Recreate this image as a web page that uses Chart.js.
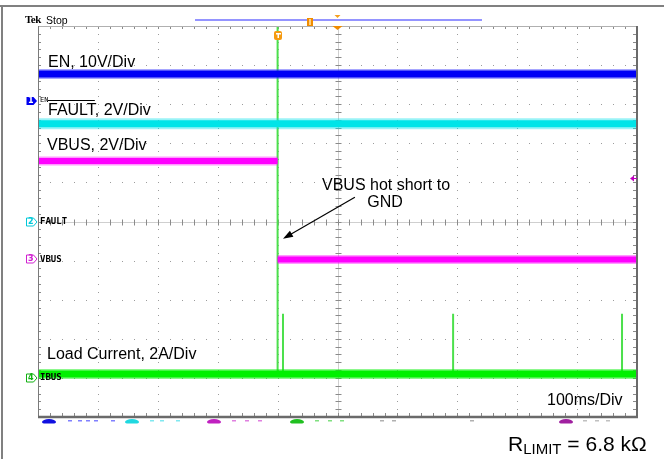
<!DOCTYPE html>
<html><head><meta charset="utf-8">
<script src="https://cdn.jsdelivr.net/npm/chart.js@4/dist/chart.umd.min.js"></script>
<style>
html,body{margin:0;padding:0;background:#fff;}
#wrap{position:relative;width:664px;height:459px;overflow:hidden;background:#fff;}
canvas{position:absolute;left:0;top:0;}
.t{position:absolute;font-family:"Liberation Sans",Arial,sans-serif;font-size:16px;line-height:16px;color:#000;white-space:nowrap;}
.lab{position:absolute;font-family:"DejaVu Sans Mono",monospace;font-size:9px;line-height:9px;font-weight:bold;color:#000;white-space:nowrap;}
.dig{position:absolute;font-family:"DejaVu Sans",sans-serif;font-size:8px;line-height:8px;font-weight:bold;white-space:nowrap;}
</style></head><body>
<div id="wrap">
<canvas id="c" width="664" height="459"></canvas>
<div class="t" style="left:25px;top:14px;font-family:'Liberation Serif',serif;font-weight:bold;font-size:11px;line-height:11px;letter-spacing:-0.5px">Tek</div>
<div class="t" style="left:46px;top:15px;font-size:10.5px;line-height:11px">Stop</div>
<div class="t" style="left:48px;top:53.5px">EN, 10V/Div</div>
<div class="t" style="left:48px;top:101.5px"><span style="text-decoration:overline">FAULT</span>, 2V/Div</div>
<div class="t" style="left:47px;top:136.5px">VBUS, 2V/Div</div>
<div class="t" style="left:322px;top:176.5px;width:126px;text-align:center">VBUS hot short to</div>
<div class="t" style="left:322px;top:193.5px;width:126px;text-align:center">GND</div>
<div class="t" style="left:47px;top:345.5px">Load Current, 2A/Div</div>
<div class="t" style="left:547px;top:391.5px">100ms/Div</div>
<div class="t" style="left:508px;top:433px;font-size:21px;line-height:21px">R<span style="font-size:15px;position:relative;top:3px">LIMIT</span> = 6.8 kΩ</div>
</div>
<script>
// ---- data (time in ms, 100 ms/div; vertical position in screen divisions, centre = 0) ----
const timeRange = [0, 1000];
const divRange = [-5, 5];
const enTime = [0, 1000];
const enDiv = [3.77, 3.77];
const faultTime = [0, 1000];
const faultDiv = [2.5, 2.5];
const vbusTime = [0, 400, 400, 400, 1000];
const vbusDiv = [1.55, 1.55, null, -0.97, -0.97];
const loadTime = [0, 1000];
const loadDiv = [-3.9, -3.9];
const spikeTime = [400, 409, 693, 975];
const spikeTop = [5, -2.36, -2.36, -2.36];
const triggerTime = 400;
const channelNames = ['EN', 'FAULT', 'VBUS', 'IBUS'];
const channelNums = ['1', '2', '3', '4'];
const channelGround = [3.08, 0, -0.96, -4.0];
const channelColors = ['#0000f0', '#00c8d8', '#d020d0', '#10b010'];
const triggerLevelDiv = 1.1;
const arrowFrom = [529, 0.62];
const arrowTo = [409, -0.44];

function pts(xs, ys) { return xs.map((x, i) => ({x: x, y: ys[i]})); }
const spikePts = [];
spikeTime.forEach((t, i) => {
  spikePts.push({x: t, y: loadDiv[0]}, {x: t, y: spikeTop[i]}, {x: t, y: null});
});

function ds(data, color, w) {
  return {data: data, borderColor: color, borderWidth: w, pointRadius: 0, tension: 0, spanGaps: false, fill: false};
}

const graticule = {
  id: 'graticule',
  beforeDatasetsDraw(chart) {
    const {ctx, chartArea: a, scales: {x, y}} = chart;
    ctx.save();
    ctx.fillStyle = '#9c9c9c';
    for (let i = 1; i < 10; i++) {
      if (i === 5) continue;
      const px = Math.round(x.getPixelForValue(i * 100));
      for (let k = 1; k < 50; k++) {
        const py = Math.round(y.getPixelForValue(-5 + k * 0.2));
        ctx.fillRect(px, py, 1, 1);
      }
    }
    for (let j = -4; j <= 4; j++) {
      if (j === 0) continue;
      const py = Math.round(y.getPixelForValue(j));
      for (let k = 1; k < 50; k++) {
        const px = Math.round(x.getPixelForValue(k * 20));
        ctx.fillRect(px, py, 1, 1);
      }
    }
    const cx = Math.round(x.getPixelForValue(500)) + 0.5;
    const cy = Math.round(y.getPixelForValue(0)) + 0.5;
    ctx.strokeStyle = '#cfcfcf';
    ctx.lineWidth = 1;
    ctx.beginPath();
    ctx.moveTo(a.left, cy); ctx.lineTo(a.right, cy);
    ctx.moveTo(cx, a.top); ctx.lineTo(cx, a.bottom);
    ctx.stroke();
    ctx.strokeStyle = '#8a8a8a';
    ctx.beginPath();
    for (let k = 1; k < 50; k++) {
      const px = Math.round(x.getPixelForValue(k * 20)) + 0.5;
      ctx.moveTo(px, cy - 3); ctx.lineTo(px, cy + 3);
      const py = Math.round(y.getPixelForValue(-5 + k * 0.2)) + 0.5;
      ctx.moveTo(cx - 3, py); ctx.lineTo(cx + 3, py);
    }
    for (let k = 1; k < 50; k++) {
      const px = Math.round(x.getPixelForValue(k * 20)) + 0.5;
      ctx.moveTo(px, a.top); ctx.lineTo(px, a.top + 3);
      ctx.moveTo(px, a.bottom); ctx.lineTo(px, a.bottom - 4);
      const py = Math.round(y.getPixelForValue(-5 + k * 0.2)) + 0.5;
      ctx.moveTo(a.left, py); ctx.lineTo(a.left + 3, py);
      ctx.moveTo(a.right, py); ctx.lineTo(a.right - 4, py);
    }
    ctx.stroke();
    ctx.restore();
  },
  afterDatasetsDraw(chart) {
    const {ctx, chartArea: a, scales: {x, y}} = chart;
    ctx.save();
    ctx.strokeStyle = '#b0b0b0'; ctx.lineWidth = 1;
    ctx.beginPath(); ctx.moveTo(a.left, a.top + 0.5); ctx.lineTo(a.right, a.top + 0.5); ctx.stroke();
    ctx.strokeStyle = '#7a7a7a';
    ctx.beginPath(); ctx.moveTo(a.left + 0.5, a.top); ctx.lineTo(a.left + 0.5, a.bottom); ctx.stroke();
    ctx.strokeStyle = '#6a6a6a'; ctx.lineWidth = 2;
    ctx.beginPath(); ctx.moveTo(a.right, a.top); ctx.lineTo(a.right, a.bottom + 1); ctx.stroke();
    ctx.lineWidth = 2.5;
    ctx.beginPath(); ctx.moveTo(a.left, a.bottom); ctx.lineTo(a.right + 1, a.bottom); ctx.stroke();
    ctx.strokeStyle = '#808080'; ctx.lineWidth = 2;
    ctx.beginPath(); ctx.moveTo(0, 6); ctx.lineTo(664, 6); ctx.moveTo(2, 6); ctx.lineTo(2, 459); ctx.stroke();
    ctx.strokeStyle = '#7070ff'; ctx.lineWidth = 1.5;
    ctx.beginPath(); ctx.moveTo(195, 20); ctx.lineTo(482, 20); ctx.stroke();
    ctx.fillStyle = '#f08c00';
    ctx.fillRect(307, 18, 6, 8);
    ctx.fillStyle = '#ffd080'; ctx.fillRect(309, 19, 2, 6);
    const cx = x.getPixelForValue(500);
    ctx.fillStyle = '#f5a020';
    ctx.beginPath(); ctx.moveTo(cx - 3, 15); ctx.lineTo(cx + 3, 15); ctx.lineTo(cx, 18); ctx.closePath(); ctx.fill();
    ctx.fillStyle = '#f08c00';
    ctx.beginPath(); ctx.moveTo(cx - 5, a.top); ctx.lineTo(cx + 5, a.top); ctx.lineTo(cx, a.top + 4); ctx.closePath(); ctx.fill();
    const tx = Math.round(x.getPixelForValue(triggerTime));
    ctx.fillStyle = '#f59a10';
    ctx.beginPath(); ctx.roundRect(tx - 4, a.top + 5, 8, 9, 2); ctx.fill();
    ctx.fillStyle = '#ffffff';
    ctx.fillRect(tx - 2, a.top + 7, 5, 1.5); ctx.fillRect(tx - 0.5, a.top + 7, 1.5, 5);
    const ly = Math.round(y.getPixelForValue(triggerLevelDiv)) + 0.5;
    ctx.fillStyle = '#c000c0'; ctx.strokeStyle = '#c000c0'; ctx.lineWidth = 1;
    ctx.beginPath(); ctx.moveTo(a.right - 7, ly); ctx.lineTo(a.right - 3, ly - 3); ctx.lineTo(a.right - 3, ly + 3); ctx.closePath(); ctx.fill();
    ctx.beginPath(); ctx.moveTo(a.right - 4, ly); ctx.lineTo(a.right, ly); ctx.stroke();
    channelGround.forEach((g, i) => {
      const py = Math.round(y.getPixelForValue(g));
      const l = 26.5, r = 33.5, tip = 37;
      ctx.beginPath();
      ctx.moveTo(l, py - 4); ctx.lineTo(r, py - 4); ctx.lineTo(tip, py); ctx.lineTo(r, py + 4); ctx.lineTo(l, py + 4); ctx.closePath();
      if (i === 0) { ctx.fillStyle = channelColors[i]; ctx.fill(); }
      else { ctx.fillStyle = '#fff'; ctx.fill(); ctx.strokeStyle = channelColors[i]; ctx.lineWidth = 1; ctx.stroke(); }
    });
    const fx = x.getPixelForValue(arrowFrom[0]), fy = y.getPixelForValue(arrowFrom[1]);
    const ex = x.getPixelForValue(arrowTo[0]), ey = y.getPixelForValue(arrowTo[1]);
    const ang = Math.atan2(ey - fy, ex - fx);
    ctx.strokeStyle = '#000'; ctx.fillStyle = '#000'; ctx.lineWidth = 1.2;
    ctx.beginPath(); ctx.moveTo(fx, fy); ctx.lineTo(ex - 6 * Math.cos(ang), ey - 6 * Math.sin(ang)); ctx.stroke();
    ctx.beginPath();
    ctx.moveTo(ex, ey);
    ctx.lineTo(ex - 10 * Math.cos(ang) + 3.5 * Math.sin(ang), ey - 10 * Math.sin(ang) - 3.5 * Math.cos(ang));
    ctx.lineTo(ex - 10 * Math.cos(ang) - 3.5 * Math.sin(ang), ey - 10 * Math.sin(ang) + 3.5 * Math.cos(ang));
    ctx.closePath(); ctx.fill();
    ctx.beginPath(); ctx.rect(0, a.bottom + 1.5, 664, 5); ctx.clip();
    const ovals = [[49, '#1010e0'], [132, '#20d8e0'], [214, '#c020c0'], [297, '#20c020'], [566, '#a020a0']];
    ovals.forEach(o => { ctx.fillStyle = o[1]; ctx.beginPath(); ctx.ellipse(o[0], a.bottom + 5, 7, 3, 0, 0, Math.PI * 2); ctx.fill(); });
    const frags = [[68, '#8080ff'], [78, '#8080ff'], [86, '#8080ff'], [94, '#8080ff'], [111, '#8080ff'],
      [150, '#80e8f0'], [160, '#80e8f0'], [176, '#80e8f0'], [232, '#e080e0'], [245, '#e080e0'], [258, '#e080e0'],
      [315, '#80e080'], [328, '#80e080'], [340, '#80e080'], [380, '#b0b0b0'], [392, '#b0b0b0'], [470, '#b0b0b0'],
      [583, '#c0c0c0'], [595, '#c0c0c0'], [606, '#c0c0c0']];
    frags.forEach(f => { ctx.fillStyle = f[1]; ctx.fillRect(f[0], a.bottom + 3, 4, 1.5); });
    ctx.restore();
  }
};

const chart = new Chart(document.getElementById('c'), {
  type: 'line',
  data: {
    datasets: [
      ds(pts(enTime, enDiv), '#0000f5', 7),
      ds(pts(enTime, enDiv), 'rgba(60,60,255,0.45)', 10),
      ds(pts(faultTime, faultDiv), '#00e4e8', 7),
      ds(pts(faultTime, faultDiv), 'rgba(0,225,235,0.4)', 11),
      ds(pts(vbusTime, vbusDiv), '#ff00ff', 6),
      ds(pts(vbusTime, vbusDiv), 'rgba(255,0,255,0.4)', 9),
      ds(pts(loadTime, loadDiv), '#00f000', 7),
      ds(pts(loadTime, loadDiv), 'rgba(0,240,0,0.45)', 10),
      ds(spikePts, '#4ce04c', 2)
    ]
  },
  options: {
    responsive: false,
    animation: false,
    devicePixelRatio: 1,
    layout: {padding: {left: 38, top: 26, right: 27, bottom: 42}},
    plugins: {legend: {display: false}, tooltip: {enabled: false}, title: {display: false}},
    scales: {
      x: {type: 'linear', min: timeRange[0], max: timeRange[1], display: false},
      y: {type: 'linear', min: divRange[0], max: divRange[1], display: false}
    }
  },
  plugins: [graticule]
});

const wrap = document.getElementById('wrap');
channelGround.forEach((g, i) => {
  const py = chart.scales.y.getPixelForValue(g);
  const lab = document.createElement('div');
  lab.className = 'lab';
  lab.textContent = channelNames[i];
  if (i === 0) { lab.style.fontSize = '7px'; lab.style.lineHeight = '7px'; lab.style.fontWeight = 'normal'; lab.style.top = (py - 4) + 'px'; }
  else lab.style.top = (py - 4.5) + 'px';
  lab.style.left = '40px';
  wrap.appendChild(lab);
  const d = document.createElement('div');
  d.className = 'dig';
  d.textContent = channelNums[i];
  d.style.left = '28px';
  d.style.top = (py - 4) + 'px';
  d.style.color = i === 0 ? '#fff' : channelColors[i];
  wrap.appendChild(d);
});
</script>
</body></html>
